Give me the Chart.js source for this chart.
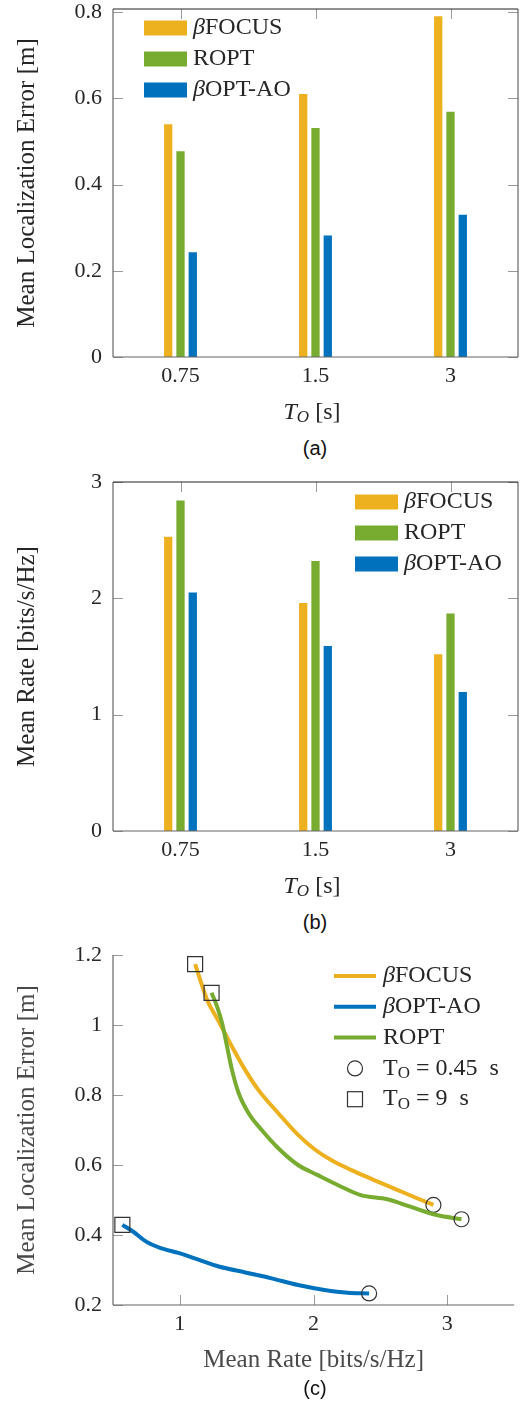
<!DOCTYPE html>
<html>
<head>
<meta charset="utf-8">
<script src="https://cdn.jsdelivr.net/npm/chart.js@4.4.0/dist/chart.umd.min.js"></script>
<style>
body { margin: 0; background: #fff; width: 526px; height: 1401px; position: relative; overflow: hidden; }
canvas { position: absolute; left: 0; }
.cap { position: absolute; left: 265px; width: 100px; text-align: center;
       font: 20px "Liberation Sans", Arial, sans-serif; line-height: 20px; color: #111; }
</style>
</head>
<body>
<canvas id="chartA" width="526" height="435" style="top:0px"></canvas>
<canvas id="chartB" width="526" height="435" style="top:470px"></canvas>
<canvas id="chartC" width="526" height="440" style="top:940px"></canvas>
<div class="cap" style="top:438px">(a)</div>
<div class="cap" style="top:912px">(b)</div>
<div class="cap" style="top:1378px">(c)</div>

<script>
// ---- data ----
var periods = ['0.75', '1.5', '3'];
var seriesNames = ['βFOCUS', 'ROPT', 'βOPT-AO'];

var errFocus = [0.54, 0.61, 0.79];
var errRopt  = [0.477, 0.531, 0.569];
var errAo    = [0.243, 0.282, 0.33];

var rateFocus = [2.53, 1.96, 1.52];
var rateRopt  = [2.84, 2.32, 1.87];
var rateAo    = [2.05, 1.59, 1.195];

// tradeoff curves (rate, error), from T_O = 9 s down to T_O = 0.45 s
var focusRate = [1.114, 1.205, 1.291, 1.39, 1.489, 1.588, 1.736, 1.884, 2.007, 2.131, 2.279, 2.452, 2.625, 2.773, 2.896];
var focusErr  = [1.174, 1.071, 1.01, 0.938, 0.871, 0.814, 0.748, 0.686, 0.645, 0.614, 0.586, 0.557, 0.529, 0.505, 0.486];
var roptRate  = [1.237, 1.279, 1.316, 1.353, 1.39, 1.44, 1.514, 1.612, 1.736, 1.884, 2.032, 2.18, 2.353, 2.551, 2.723, 2.921, 3.106];
var roptErr   = [1.092, 1.052, 1.005, 0.938, 0.871, 0.805, 0.748, 0.7, 0.648, 0.6, 0.571, 0.543, 0.514, 0.502, 0.481, 0.457, 0.445];
var aoRate    = [0.57, 0.649, 0.748, 0.847, 0.995, 1.143, 1.291, 1.489, 1.686, 1.884, 2.081, 2.254, 2.415];
var aoErr     = [0.429, 0.41, 0.381, 0.364, 0.348, 0.329, 0.31, 0.293, 0.276, 0.257, 0.243, 0.235, 0.233];

var rateTicks = [1, 2, 3];

var colors = { focus: '#EDB120', ropt: '#77AC30', ao: '#0072BD' };
var TXT = '#262626';
var SERIF = '"Liberation Serif", "Times New Roman", serif';

function segFont(s) {
  return (s.it ? 'italic ' : '') + (s.size || 24) + 'px ' + SERIF;
}

// draws a row of text pieces (for beta / subscripts)
function drawRich(ctx, segs, x, y, align, color) {
  var w = 0;
  segs.forEach(function(s) {
    ctx.font = segFont(s);
    s.w = ctx.measureText(s.t).width;
    w += s.w;
  });
  var cx = align === 'center' ? x - w / 2 : x;
  ctx.textBaseline = 'middle';
  ctx.textAlign = 'left';
  segs.forEach(function(s) {
    ctx.font = segFont(s);
    ctx.fillStyle = color || TXT;
    ctx.fillText(s.t, cx, y + (s.dy || 0));
    cx += s.w;
  });
}

function labelSegs(name) {
  if (name.charAt(0) === 'β') return [{t: 'β', it: true}, {t: name.slice(1)}];
  return [{t: name}];
}

function line(ctx, x1, y1, x2, y2) {
  ctx.beginPath();
  ctx.moveTo(x1, y1);
  ctx.lineTo(x2, y2);
  ctx.stroke();
}

// axis box + inward ticks
var framePlugin = {
  id: 'frame',
  beforeDatasetsDraw: function(chart, args, o) {
    var ctx = chart.ctx, a = chart.chartArea;
    var xs = chart.scales.x, ys = chart.scales.y;
    ctx.save();
    ctx.strokeStyle = '#9a9a9a';
    ctx.lineWidth = 1;
    ys.ticks.forEach(function(t, i) {
      var py = Math.round(ys.getPixelForTick(i)) + 0.5;
      line(ctx, a.left, py, a.left + 10, py);
      if (o.box) line(ctx, a.right, py, a.right - 10, py);
    });
    xs.ticks.forEach(function(t, i) {
      var px = Math.round(xs.getPixelForTick(i)) + 0.5;
      line(ctx, px, a.bottom, px, a.bottom - 10);
      if (o.box) line(ctx, px, a.top, px, a.top + 10);
    });
    ctx.restore();
  },
  afterDatasetsDraw: function(chart, args, o) {
    var ctx = chart.ctx, a = chart.chartArea;
    ctx.save();
    ctx.lineWidth = 1.2;
    ctx.strokeStyle = '#666';
    line(ctx, a.left, a.top, a.left, a.bottom);
    line(ctx, a.left, a.bottom, a.right, a.bottom);
    if (o.box) {
      line(ctx, a.right, a.top, a.right, a.bottom);
      ctx.strokeStyle = '#222';
      line(ctx, a.left, a.top, a.right, a.top);
    }
    if (o.xTitle) drawRich(ctx, o.xTitle.segs, o.xTitle.x, o.xTitle.y, 'center');
    ctx.restore();
  }
};

// legend drawn inside the axes
var legendPlugin = {
  id: 'inLegend',
  afterDraw: function(chart, args, o) {
    var ctx = chart.ctx, a = chart.chartArea;
    ctx.save();
    o.items.forEach(function(it, i) {
      var y = a.top + o.y + i * o.gap;
      var x = a.left + o.x;
      if (it.kind === 'box') {
        ctx.fillStyle = it.color;
        ctx.fillRect(x, y - 7.5, 43, 15);
      } else if (it.kind === 'line') {
        ctx.strokeStyle = it.color;
        ctx.lineWidth = 4;
        line(ctx, x, y, x + 42, y);
      } else if (it.kind === 'circle') {
        ctx.strokeStyle = '#333';
        ctx.lineWidth = 1.2;
        ctx.beginPath();
        ctx.arc(x + 21, y, 7.5, 0, Math.PI * 2);
        ctx.stroke();
      } else if (it.kind === 'square') {
        ctx.strokeStyle = '#333';
        ctx.lineWidth = 1.2;
        ctx.strokeRect(x + 13.5, y - 7.5, 15, 15);
      }
      drawRich(ctx, it.segs, x + o.textX, y, 'left');
    });
    ctx.restore();
  }
};

function fmt(v) { return String(+(+v).toFixed(2)); }

function yAxis(min, max, step, title, titleColor) {
  return {
    min: min, max: max,
    grid: { display: false, drawTicks: false },
    border: { display: false },
    ticks: { stepSize: step, includeBounds: false, padding: 11, color: TXT,
             font: { family: SERIF, size: 22 }, callback: fmt },
    title: { display: true, text: title, color: titleColor || TXT,
             font: { family: SERIF, size: 25 }, padding: { top: 12, bottom: 0 } },
    afterFit: function(s) { s.width = 113; s.paddingTop = 0; s.paddingBottom = 0; }
  };
}

function barChart(id, vals, yMax, yStep, xHeight, padTop, legendOpts, yTitle, xTitleY) {
  var keys = ['focus', 'ropt', 'ao'];
  return new Chart(document.getElementById(id), {
    type: 'bar',
    data: {
      labels: periods,
      datasets: vals.map(function(v, i) {
        return { label: seriesNames[i], data: v, backgroundColor: colors[keys[i]],
                 borderWidth: 0, categoryPercentage: 0.273, barPercentage: 0.675 };
      })
    },
    options: {
      responsive: false, animation: false,
      layout: { padding: { top: padTop, right: 8, left: 0, bottom: 0 } },
      scales: {
        x: {
          grid: { display: false, drawTicks: false },
          border: { display: false },
          ticks: { padding: 6, color: TXT, font: { family: SERIF, size: 22 } },
          afterFit: function(s) { s.height = xHeight; s.paddingLeft = 0; s.paddingRight = 0; }
        },
        y: yAxis(0, yMax, yStep, yTitle)
      },
      plugins: {
        legend: { display: false },
        tooltip: { enabled: false },
        frame: { box: true, xTitle: { x: 312, y: xTitleY,
                 segs: [{t: 'T', it: true}, {t: 'O', it: true, size: 17, dy: 5}, {t: ' [s]'}] } },
        inLegend: legendOpts
      }
    },
    plugins: [framePlugin, legendPlugin]
  });
}

var barLegend = function(x, y) {
  return { x: x, y: y, gap: 31, textX: 49, items: [
    { kind: 'box', color: colors.focus, segs: labelSegs(seriesNames[0]) },
    { kind: 'box', color: colors.ropt, segs: labelSegs(seriesNames[1]) },
    { kind: 'box', color: colors.ao, segs: labelSegs(seriesNames[2]) }
  ] };
};

function pts(xs, ys) {
  return xs.map(function(x, i) { return { x: x, y: ys[i] }; });
}

function curve(label, xs, ys, color, order) {
  var n = xs.length;
  return {
    label: label, data: pts(xs, ys), borderColor: color, borderWidth: 4,
    cubicInterpolationMode: 'monotone', order: order, fill: false,
    pointStyle: function(c) { return c.dataIndex === 0 ? 'rect' : 'circle'; },
    pointRadius: function(c) { return c.dataIndex === 0 ? 10.6 : (c.dataIndex === n - 1 ? 7.5 : 0); },
    pointBorderColor: '#333', pointBackgroundColor: 'rgba(0,0,0,0)', pointBorderWidth: 1.2
  };
}

function drawAll() {
  barChart('chartA', [errFocus, errRopt, errAo], 0.807, 0.2, 78, 9,
           barLegend(31, 19), 'Mean Localization Error [m]', 413);
  barChart('chartB', [rateFocus, rateRopt, rateAo], 3, 1, 74, 12,
           barLegend(242, 20), 'Mean Rate [bits/s/Hz]', 417);

  new Chart(document.getElementById('chartC'), {
    type: 'line',
    data: {
      datasets: [
        curve('βFOCUS', focusRate, focusErr, colors.focus, 1),
        curve('βOPT-AO', aoRate, aoErr, colors.ao, 2),
        curve('ROPT', roptRate, roptErr, colors.ropt, 0)
      ]
    },
    options: {
      responsive: false, animation: false,
      layout: { padding: { top: 15, right: 8, left: 0, bottom: 0 } },
      scales: {
        x: {
          type: 'linear', min: 0.5, max: 3.5,
          grid: { display: false, drawTicks: false },
          border: { display: false },
          ticks: { padding: 6, color: TXT, font: { family: SERIF, size: 22 }, callback: fmt },
          afterBuildTicks: function(s) {
            s.ticks = rateTicks.map(function(v) { return { value: v }; });
          },
          title: { display: true, text: 'Mean Rate [bits/s/Hz]', color: '#4a4a4a',
                   font: { family: SERIF, size: 25 }, padding: { top: 0, bottom: 5 } },
          afterFit: function(s) { s.height = 75; s.paddingLeft = 0; s.paddingRight = 0; }
        },
        y: yAxis(0.2, 1.2, 0.2, 'Mean Localization Error [m]', '#4a4a4a')
      },
      plugins: {
        legend: { display: false },
        tooltip: { enabled: false },
        frame: { box: false },
        inLegend: { x: 221, y: 21, gap: 30.8, textX: 49, items: [
          { kind: 'line', color: colors.focus, segs: labelSegs('βFOCUS') },
          { kind: 'line', color: colors.ao, segs: labelSegs('βOPT-AO') },
          { kind: 'line', color: colors.ropt, segs: labelSegs('ROPT') },
          { kind: 'circle', segs: [{t: 'T'}, {t: 'O', size: 17, dy: 5}, {t: ' = 0.45  s'}] },
          { kind: 'square', segs: [{t: 'T'}, {t: 'O', size: 17, dy: 5}, {t: ' = 9  s'}] }
        ] }
      }
    },
    plugins: [framePlugin, legendPlugin]
  });
}

// make sure the serif faces are ready before the canvases are painted
Promise.all([
  document.fonts.load('22px "Liberation Serif"'),
  document.fonts.load('italic 24px "Liberation Serif"'),
  document.fonts.load('20px "Liberation Sans"')
]).then(drawAll, drawAll);
</script>
</body>
</html>
